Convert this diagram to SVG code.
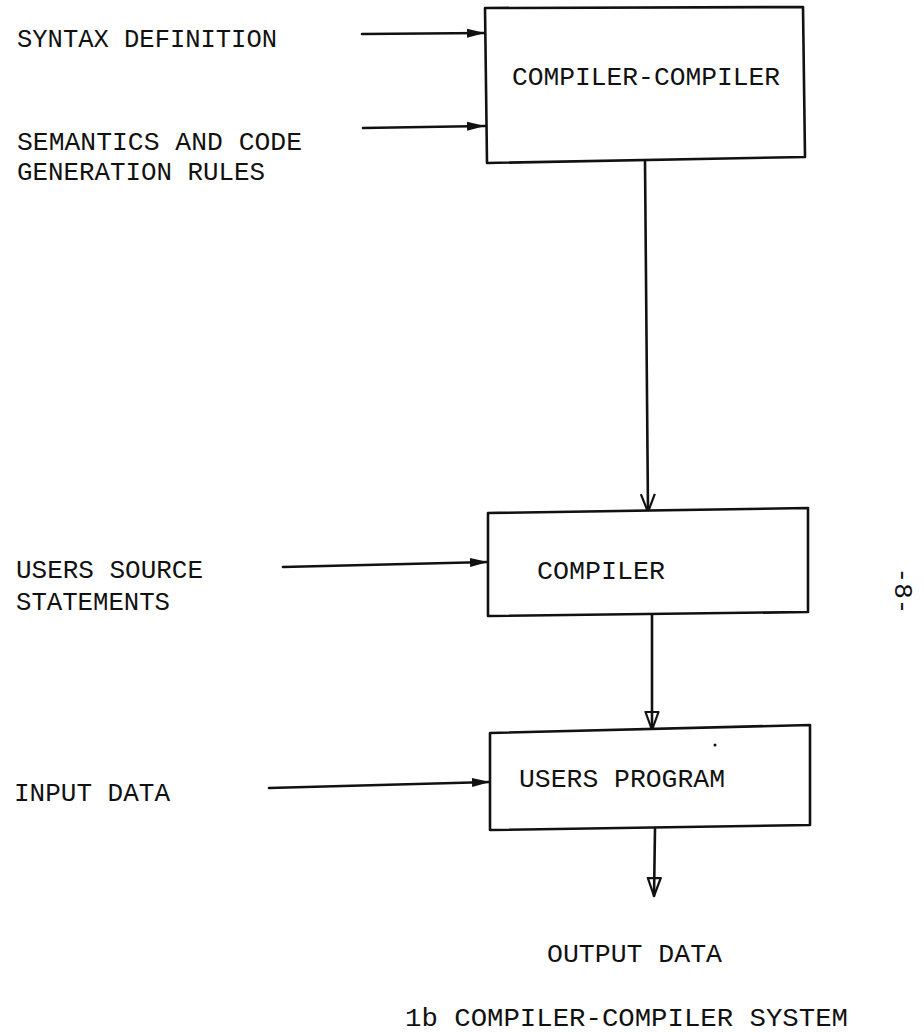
<svg xmlns="http://www.w3.org/2000/svg" width="924" height="1034" viewBox="0 0 924 1034">
  <style>
    text { font-family: "Liberation Mono", "Courier New", monospace; font-size: 26px; fill: #111; }
    .box { fill: #fff; stroke: #111; stroke-width: 2.6; stroke-linejoin: round; }
    .wire { fill: none; stroke: #111; stroke-width: 2.6; stroke-linecap: round; }
  </style>
  <defs>
    <!-- filled head for the side inputs -->
    <marker id="solid" viewBox="0 0 18 10" refX="18" refY="5" markerWidth="18" markerHeight="10" markerUnits="userSpaceOnUse" orient="auto">
      <path d="M0,0.5 L18,5 L0,9.5 Z" fill="#111"/>
    </marker>
    <!-- plain V head -->
    <marker id="vee" viewBox="0 0 20 16" refX="19" refY="8" markerWidth="20" markerHeight="16" markerUnits="userSpaceOnUse" orient="auto">
      <path d="M1,1 L19,8 L1,15" fill="none" stroke="#111" stroke-width="2.2"/>
    </marker>
    <!-- hollow triangle head -->
    <marker id="hollow" viewBox="0 0 20 16" refX="19" refY="8" markerWidth="20" markerHeight="16" markerUnits="userSpaceOnUse" orient="auto">
      <path d="M1,1.5 L19,8 L1,14.5 Z" fill="none" stroke="#111" stroke-width="2.2" stroke-linejoin="round"/>
    </marker>
  </defs>

  <rect width="924" height="1034" fill="#fff"/>

  <g id="connectors">
    <line class="wire" x1="362" y1="34" x2="485" y2="33" marker-end="url(#solid)"/>
    <line class="wire" x1="363" y1="128" x2="485" y2="126" marker-end="url(#solid)"/>
    <line class="wire" x1="645" y1="161" x2="648" y2="512" marker-end="url(#vee)"/>
    <line class="wire" x1="283" y1="567" x2="488" y2="562" marker-end="url(#solid)"/>
    <line class="wire" x1="652" y1="615" x2="652" y2="730" marker-end="url(#hollow)"/>
    <line class="wire" x1="269" y1="788" x2="490" y2="782" marker-end="url(#solid)"/>
    <line class="wire" x1="655" y1="829" x2="654" y2="896" marker-end="url(#hollow)"/>
  </g>

  <g id="compiler-compiler">
    <path class="box" d="M485,8 L803,7 L805,157 L487,163 Z"/>
    <text x="512" y="85" textLength="268" lengthAdjust="spacingAndGlyphs">COMPILER-COMPILER</text>
  </g>

  <g id="compiler">
    <path class="box" d="M488,513 L808,508 L808,612 L488,616 Z"/>
    <text x="537" y="579" textLength="128" lengthAdjust="spacingAndGlyphs">COMPILER</text>
  </g>

  <g id="users-program">
    <path class="box" d="M490,733 L810,725 L810,825 L490,830 Z"/>
    <text x="519" y="787" textLength="206" lengthAdjust="spacingAndGlyphs">USERS PROGRAM</text>
    <circle cx="715" cy="745" r="1.5" fill="#111"/>
  </g>

  <g id="inputs">
    <text x="17" y="47" textLength="260" lengthAdjust="spacingAndGlyphs">SYNTAX DEFINITION</text>
    <text x="17" y="150" textLength="285" lengthAdjust="spacingAndGlyphs">SEMANTICS AND CODE</text>
    <text x="17" y="180" textLength="248" lengthAdjust="spacingAndGlyphs">GENERATION RULES</text>
    <text x="16" y="578" textLength="187" lengthAdjust="spacingAndGlyphs">USERS SOURCE</text>
    <text x="16" y="610" textLength="154" lengthAdjust="spacingAndGlyphs">STATEMENTS</text>
    <text x="14" y="801" textLength="156" lengthAdjust="spacingAndGlyphs">INPUT DATA</text>
  </g>

  <g id="outputs">
    <text x="547" y="962" textLength="175" lengthAdjust="spacingAndGlyphs">OUTPUT DATA</text>
    <text x="405" y="1026" font-size="25" textLength="443" lengthAdjust="spacingAndGlyphs">1b COMPILER-COMPILER SYSTEM</text>
  </g>

  <g id="page-number">
    <text x="902" y="591" font-size="24" text-anchor="middle" dominant-baseline="central" transform="rotate(90 902 591)">-8-</text>
  </g>
</svg>
